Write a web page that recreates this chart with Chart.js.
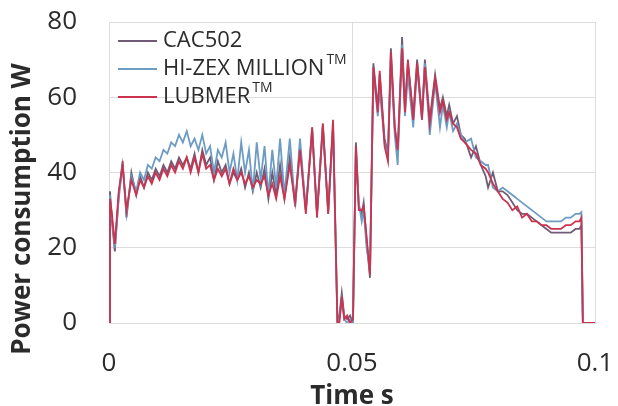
<!DOCTYPE html>
<html>
<head>
<meta charset="utf-8">
<script src="https://cdn.jsdelivr.net/npm/chart.js@4/dist/chart.umd.min.js"></script>
<style>
  html, body { margin: 0; padding: 0; background: #ffffff; }
  #wrap { width: 618px; height: 406px; }
</style>
</head>
<body>
<div id="wrap"><canvas id="chart" width="618" height="406"></canvas></div>
<script>
// Sample times (s) shared by the three power traces
const timeS = [
  0.0000, 0.0002, 0.0006, 0.0012, 0.0020, 0.0028, 0.0036, 0.0046, 0.0056, 0.0064,
  0.0072, 0.0080, 0.0088, 0.0096, 0.0104, 0.0112, 0.0120, 0.0128, 0.0136, 0.0144,
  0.0152, 0.0160, 0.0168, 0.0176, 0.0184, 0.0192, 0.0200, 0.0208, 0.0216, 0.0224,
  0.0232, 0.0240, 0.0248, 0.0256, 0.0264, 0.0272, 0.0280, 0.0288, 0.0296, 0.0304,
  0.0312, 0.0320, 0.0328, 0.0336, 0.0344, 0.0352, 0.0361, 0.0372, 0.0383, 0.0393,
  0.0405, 0.0418, 0.0428, 0.0440, 0.0451, 0.0461, 0.0470, 0.0474, 0.0479, 0.0484,
  0.0490, 0.0496, 0.0502, 0.0508, 0.0514, 0.0520, 0.0524, 0.0530, 0.0537, 0.0544,
  0.0553, 0.0557, 0.0567, 0.0574, 0.0580, 0.0588, 0.0594, 0.0603, 0.0609, 0.0615,
  0.0626, 0.0634, 0.0644, 0.0650, 0.0660, 0.0671, 0.0681, 0.0687, 0.0695, 0.0700,
  0.0708, 0.0716, 0.0724, 0.0732, 0.0745, 0.0755, 0.0765, 0.0775, 0.0780, 0.0790,
  0.0800, 0.0810, 0.0820, 0.0830, 0.0840, 0.0850, 0.0860, 0.0870, 0.0880, 0.0890,
  0.0900, 0.0910, 0.0920, 0.0930, 0.0940, 0.0950, 0.0960, 0.0968, 0.0972, 0.0975,
  0.0985, 0.1000
];

// Power consumption (W) per material
const cac502W = [
  0, 35, 27, 19, 34, 43, 28, 40, 34, 39,
  36, 40, 38, 41, 39, 42, 40, 43, 41, 44,
  42, 44, 41, 45, 40, 46, 42, 44, 38, 43,
  40, 42, 37, 40, 38, 41, 36, 40, 35, 40,
  36, 41, 33, 40, 34, 42, 33, 44, 31, 47,
  30, 51, 29, 52, 30, 53, 1, 2, 8, 2,
  1, 2, 0, 48, 31, 29, 32, 22, 12, 69,
  57, 66, 49, 45, 73, 52, 45, 76, 57, 69,
  55, 70, 55, 70, 54, 66, 57, 60, 55, 58,
  53, 55, 50, 49, 44, 47, 42, 39, 36, 40,
  35, 35, 34, 32, 30, 29, 29, 28, 27, 26,
  25, 24, 24, 24, 24, 24, 25, 25, 26, 0,
  0, 0
];
const hizexW = [
  0, 34, 28, 20, 33, 42, 29, 39, 35, 40,
  38, 42, 41, 44, 43, 46, 45, 48, 47, 50,
  48, 51, 47, 49, 46, 50, 45, 47, 40, 46,
  44, 48, 40, 45, 38, 48, 40, 46, 35, 48,
  38, 47, 34, 46, 36, 49, 34, 49, 31, 49,
  30, 52, 29, 53, 29, 52, 0, 1, 6, 1,
  0, 1, 0, 46, 32, 27, 30, 20, 14, 67,
  55, 62, 48, 44, 70, 50, 42, 74, 55, 66,
  52, 68, 54, 69, 50, 64, 52, 58, 52, 56,
  51, 53, 50, 48, 49, 44, 43, 42, 42, 36,
  35, 36, 35, 34, 33, 32, 31, 30, 29, 28,
  27, 27, 27, 27, 28, 28, 29, 29, 29.5, 0,
  0, 0
];
const lubmerW = [
  0, 33, 29, 21, 35, 42, 30, 38, 34, 38,
  36, 39, 37, 40, 38, 41, 39, 42, 40, 43,
  41, 44, 40, 44, 40, 45, 41, 42, 38, 41,
  39, 41, 37, 41, 38, 40, 37, 39, 36, 38,
  37, 39, 34, 37, 33, 39, 33, 42, 32, 46,
  29, 52, 28, 53, 29, 54, 0, 0, 7, 1,
  2, 0, 1, 47, 30, 30, 31, 23, 13, 68,
  56, 67, 47, 43, 72, 52, 46, 73, 56, 70,
  54, 69, 54, 68, 53, 65, 56, 59, 54, 56,
  53, 52, 49, 48, 46, 45, 42, 41, 40, 37,
  35, 33, 32, 30, 31, 28, 29, 27, 27, 26,
  26, 25, 25, 25, 26, 26, 27, 27, 28, 0,
  0, 0
];

const seriesNames = ['CAC502', 'HI-ZEX MILLION', 'LUBMER'];
const seriesMarks = ['', 'TM', 'TM'];
const seriesColors = ['#6f5c74', '#6c9bc3', '#cc3350'];
const xTickValues = [0, 0.05, 0.1];
const yTickValues = [0, 20, 40, 60, 80];

const FONT = "'Open Sans', 'Liberation Sans', sans-serif";
const TEXT = '#2b2b2b';
const GRID = '#dcdcdc';

const toPoints = vals => timeS.map((t, i) => ({ x: t, y: vals[i] }));
const seriesValues = [cac502W, hizexW, lubmerW];

// Legend with superscript trade marks, drawn on the canvas in the plot corner
const markLegend = {
  id: 'markLegend',
  afterDraw(chart) {
    const ctx = chart.ctx;
    ctx.save();
    const rowY = [41, 69, 97];
    seriesNames.forEach((name, i) => {
      const y = rowY[i];
      ctx.strokeStyle = seriesColors[i];
      ctx.lineWidth = 2;
      ctx.beginPath();
      ctx.moveTo(118, y);
      ctx.lineTo(157, y);
      ctx.stroke();
      ctx.fillStyle = TEXT;
      ctx.font = '22px ' + FONT;
      ctx.textAlign = 'left';
      ctx.textBaseline = 'middle';
      ctx.fillText(name, 163, y);
      if (seriesMarks[i]) {
        const w = ctx.measureText(name).width;
        ctx.font = '14px ' + FONT;
        ctx.fillText(seriesMarks[i], 163 + w + 2, y - 9);
      }
    });
    ctx.restore();
  }
};

// Rotated title for the power axis
const powerTitle = {
  id: 'powerTitle',
  afterDraw(chart) {
    const ctx = chart.ctx;
    ctx.save();
    ctx.translate(23, 209);
    ctx.rotate(-Math.PI / 2);
    ctx.font = 'bold 26px ' + FONT;
    ctx.fillStyle = TEXT;
    ctx.textAlign = 'center';
    ctx.textBaseline = 'middle';
    ctx.fillText('Power consumption W', 0, 0);
    ctx.restore();
  }
};

// Fixed-size axis boxes so the plot area lands at the same place every time
const sizeBox = (key, size) => s => {
  s[key] = size;
  s.paddingLeft = 0; s.paddingRight = 0; s.paddingTop = 0; s.paddingBottom = 0;
};

const spacerAxis = (position, key, size) => ({
  type: 'linear',
  position,
  min: 0,
  max: 1,
  display: true,
  grid: { display: false, drawTicks: false },
  border: { display: false },
  ticks: { display: false },
  title: { display: false },
  afterFit: sizeBox(key, size)
});

const datasets = seriesNames.map((name, i) => ({
  label: name,
  data: toPoints(seriesValues[i]),
  borderColor: seriesColors[i],
  backgroundColor: seriesColors[i],
  borderWidth: 1.8,
  pointRadius: 0,
  tension: 0,
  fill: false,
  xAxisID: 'x',
  yAxisID: 'y',
  order: 2 - i
}));

new Chart(document.getElementById('chart'), {
  type: 'line',
  data: { datasets },
  options: {
    responsive: false,
    animation: false,
    devicePixelRatio: 1,
    layout: { padding: 0 },
    plugins: {
      legend: { display: false },
      tooltip: { enabled: false },
      title: { display: false }
    },
    scales: {
      x: {
        type: 'linear',
        position: 'bottom',
        min: 0,
        max: 0.1,
        afterBuildTicks: s => { s.ticks = xTickValues.map(v => ({ value: v })); },
        afterFit: sizeBox('height', 83),
        grid: { color: GRID, lineWidth: 1, drawTicks: false },
        border: { color: GRID, width: 1 },
        ticks: {
          padding: 25,
          color: TEXT,
          font: { family: FONT, size: 26 },
          maxRotation: 0,
          callback: v => String(Number(Number(v).toFixed(3)))
        },
        title: {
          display: true,
          text: 'Time s',
          color: TEXT,
          font: { family: FONT, size: 26, weight: 'bold', lineHeight: 1 },
          padding: { top: 0, bottom: -4 }
        }
      },
      y: {
        type: 'linear',
        position: 'left',
        min: 0,
        max: 80,
        afterBuildTicks: s => { s.ticks = yTickValues.map(v => ({ value: v })); },
        afterFit: sizeBox('width', 109),
        grid: { color: GRID, lineWidth: 1, drawTicks: false },
        border: { color: GRID, width: 1 },
        ticks: {
          padding: 32,
          color: TEXT,
          font: { family: FONT, size: 26 }
        }
      },
      topSpace: spacerAxis('top', 'height', 22),
      rightSpace: spacerAxis('right', 'width', 23)
    }
  },
  plugins: [markLegend, powerTitle]
});
</script>
</body>
</html>
